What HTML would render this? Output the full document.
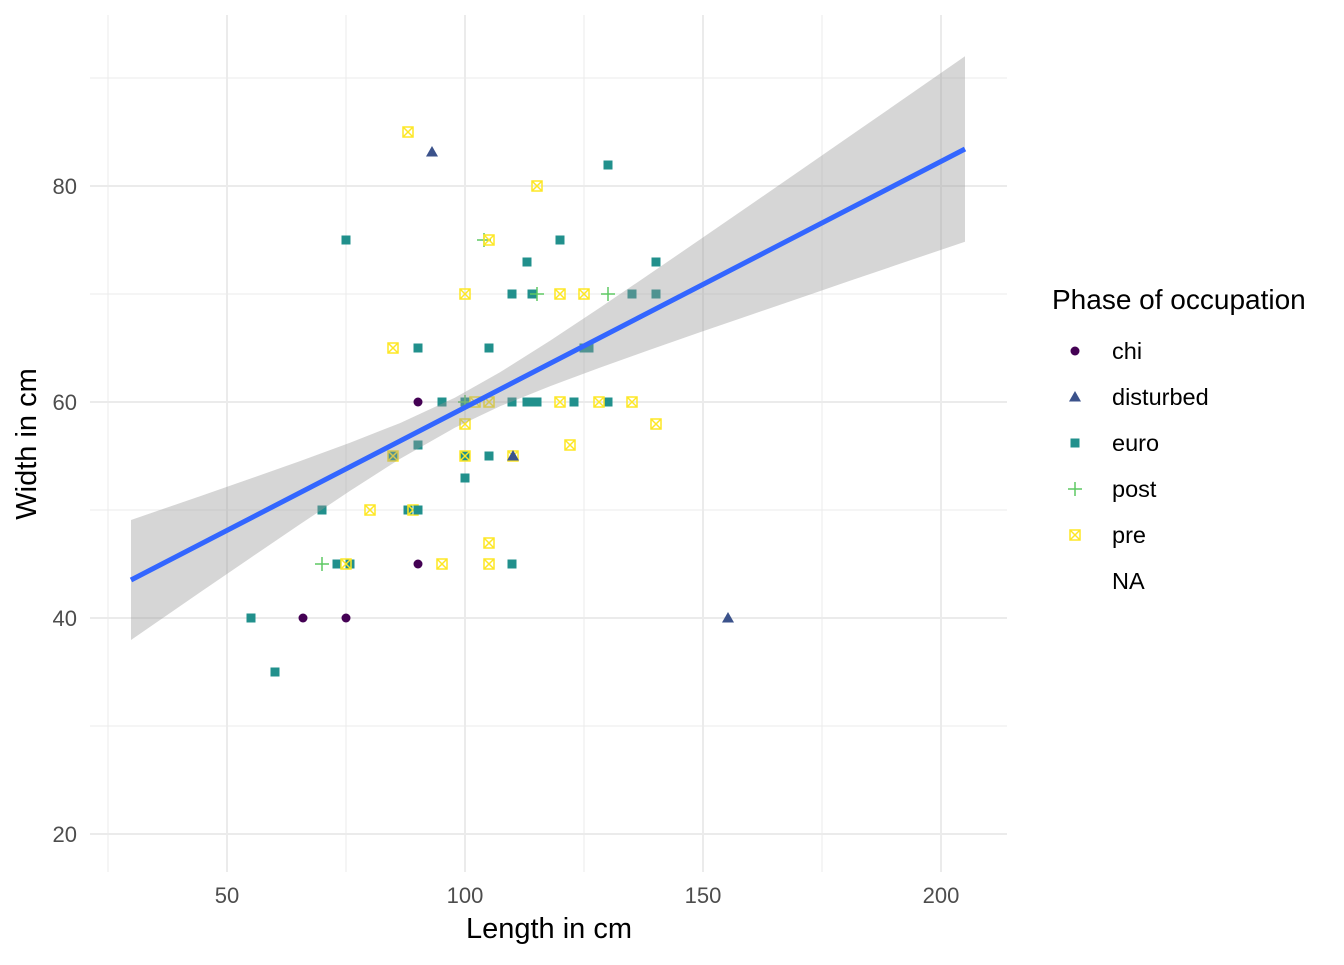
<!DOCTYPE html>
<html><head><meta charset="utf-8"><style>
html,body{margin:0;padding:0;background:#fff}
text{font-family:"Liberation Sans",sans-serif}
</style></head><body>
<svg width="1344" height="960" viewBox="0 0 1344 960" xmlns="http://www.w3.org/2000/svg">
<defs>
<g id="eu"><rect x="-4.5" y="-4.5" width="9" height="9" fill="#21908C"/></g>
<g id="ch"><circle r="4.5" fill="#440154"/></g>
<g id="di"><polygon points="0,-6 6,4.5 -6,4.5" fill="#3B528B"/></g>
<g id="po" stroke="#5DC863" stroke-width="1.5"><line x1="-7" y1="0" x2="7" y2="0"/><line x1="0" y1="-7" x2="0" y2="7"/></g>
<g id="pr" stroke="#FDE725" stroke-width="1.5" fill="none"><rect x="-5" y="-5" width="10" height="10"/><line x1="-5" y1="-5" x2="5" y2="5"/><line x1="-5" y1="5" x2="5" y2="-5"/></g>
</defs>
<g stroke="#EBEBEB" stroke-width="1">
<line x1="90" y1="78" x2="1007" y2="78"/><line x1="90" y1="294" x2="1007" y2="294"/><line x1="90" y1="510" x2="1007" y2="510"/><line x1="90" y1="726" x2="1007" y2="726"/>
<line x1="108" y1="15" x2="108" y2="872"/><line x1="346" y1="15" x2="346" y2="872"/><line x1="584" y1="15" x2="584" y2="872"/><line x1="822" y1="15" x2="822" y2="872"/>
</g>
<g stroke="#EBEBEB" stroke-width="2">
<line x1="90" y1="186" x2="1007" y2="186"/><line x1="90" y1="402" x2="1007" y2="402"/><line x1="90" y1="618" x2="1007" y2="618"/><line x1="90" y1="834" x2="1007" y2="834"/>
<line x1="227" y1="15" x2="227" y2="872"/><line x1="465" y1="15" x2="465" y2="872"/><line x1="703" y1="15" x2="703" y2="872"/><line x1="941" y1="15" x2="941" y2="872"/>
</g>
<g>
<use href="#eu" x="608" y="165"/><use href="#eu" x="346" y="240"/><use href="#eu" x="560" y="240"/><use href="#eu" x="527" y="262"/><use href="#eu" x="512" y="294"/><use href="#eu" x="532" y="294"/><use href="#eu" x="632" y="294"/><use href="#eu" x="656" y="294"/><use href="#eu" x="656" y="262"/><use href="#eu" x="418" y="348"/><use href="#eu" x="489" y="348"/><use href="#eu" x="584" y="348"/><use href="#eu" x="589" y="348"/><use href="#eu" x="442" y="402"/><use href="#eu" x="465" y="402"/><use href="#eu" x="512" y="402"/><use href="#eu" x="527" y="402"/><use href="#eu" x="537" y="402"/><use href="#eu" x="532" y="402"/><use href="#eu" x="574" y="402"/><use href="#eu" x="608" y="402"/><use href="#eu" x="418" y="445"/><use href="#eu" x="489" y="456"/><use href="#eu" x="393" y="456"/><use href="#eu" x="465" y="478"/><use href="#eu" x="322" y="510"/><use href="#eu" x="408" y="510"/><use href="#eu" x="337" y="564"/><use href="#eu" x="350" y="564"/><use href="#eu" x="512" y="564"/><use href="#eu" x="251" y="618"/><use href="#eu" x="275" y="672"/><use href="#eu" x="465" y="456"/>
<use href="#ch" x="418" y="402"/><use href="#ch" x="418" y="564"/><use href="#ch" x="303" y="618"/><use href="#ch" x="346" y="618"/>
<use href="#po" x="484" y="240"/><use href="#po" x="537" y="294"/><use href="#po" x="608" y="294"/><use href="#po" x="322" y="564"/><use href="#po" x="465" y="402"/>
<use href="#pr" x="408" y="132"/><use href="#pr" x="537" y="186"/><use href="#pr" x="489" y="240"/><use href="#pr" x="465" y="294"/><use href="#pr" x="560" y="294"/><use href="#pr" x="584" y="294"/><use href="#pr" x="393" y="348"/><use href="#pr" x="560" y="402"/><use href="#pr" x="599" y="402"/><use href="#pr" x="632" y="402"/><use href="#pr" x="489" y="402"/><use href="#pr" x="475" y="402"/><use href="#pr" x="465" y="424"/><use href="#pr" x="656" y="424"/><use href="#pr" x="570" y="445"/><use href="#pr" x="465" y="456"/><use href="#pr" x="513" y="456"/><use href="#pr" x="393" y="456"/><use href="#pr" x="370" y="510"/><use href="#pr" x="489" y="543"/><use href="#pr" x="442" y="564"/><use href="#pr" x="489" y="564"/><use href="#pr" x="346" y="564"/><use href="#pr" x="413" y="510"/>
<use href="#eu" x="418" y="510"/>
<use href="#di" x="432" y="152"/><use href="#di" x="513" y="456"/><use href="#di" x="728" y="618"/>
</g>
<path d="M131,520 L200,496.2 L250,478.8 L300,461.1 L350,442.7 L400,423.1 L455,397.6 L500,372.3 L550,340.8 L600,307.6 L650,273.8 L700,239.5 L750,205.1 L800,170.6 L850,136 L900,101.4 L965,56.3 L965,241.7 L900,263.8 L850,280.8 L800,298 L750,315.1 L700,332.3 L650,349.8 L600,367.6 L550,386.2 L500,406.3 L455,427.6 L400,458.9 L350,490.9 L300,524.3 L250,558.2 L200,592.4 L131,640 Z" fill="#999" fill-opacity="0.4"/>
<line x1="131" y1="580" x2="965" y2="149" stroke="#3366FF" stroke-width="5"/>
<g font-size="22" fill="#4D4D4D" text-anchor="end">
<text x="77" y="194">80</text><text x="77" y="410">60</text><text x="77" y="626">40</text><text x="77" y="842">20</text>
</g>
<g font-size="22" fill="#4D4D4D" text-anchor="middle">
<text x="227" y="903">50</text><text x="465" y="903">100</text><text x="703" y="903">150</text><text x="941" y="903">200</text>
</g>
<text x="549" y="938" font-size="29" text-anchor="middle">Length in cm</text>
<text transform="translate(36,444) rotate(-90)" font-size="29" text-anchor="middle">Width in cm</text>
<text x="1052" y="309" font-size="28">Phase of occupation</text>
<g font-size="23.5">
<use href="#ch" x="1075" y="351"/><text x="1112" y="359">chi</text>
<use href="#di" x="1075" y="397"/><text x="1112" y="405">disturbed</text>
<use href="#eu" x="1075" y="443"/><text x="1112" y="451">euro</text>
<use href="#po" x="1075" y="489"/><text x="1112" y="497">post</text>
<use href="#pr" x="1075" y="535"/><text x="1112" y="543">pre</text>
<text x="1112" y="589">NA</text>
</g>
</svg>
</body></html>
